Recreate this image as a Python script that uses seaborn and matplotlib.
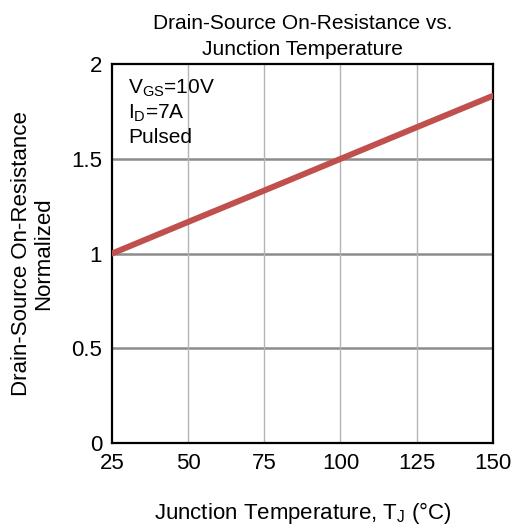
import matplotlib
matplotlib.use("Agg")
import matplotlib.pyplot as plt
import seaborn as sns
import pandas as pd

temps = [25, 50, 75, 100, 125, 150]
rds_norm = [1.0, 1.167, 1.333, 1.5, 1.667, 1.833]
x_ticks = [25, 50, 75, 100, 125, 150]
y_ticks = [0, 0.5, 1, 1.5, 2]
y_tick_labels = ["0", "0.5", "1", "1.5", "2"]

sns.set_theme(style="white")
plt.rcParams['font.family'] = ['Liberation Sans', 'DejaVu Sans']
plt.rcParams['mathtext.fontset'] = 'custom'
plt.rcParams['mathtext.rm'] = 'Liberation Sans'
plt.rcParams['mathtext.it'] = 'Liberation Sans'
plt.rcParams['text.color'] = 'black'
plt.rcParams['axes.labelcolor'] = 'black'
plt.rcParams['axes.titlecolor'] = 'black'

df = pd.DataFrame({"T": temps, "R": rds_norm})

fig = plt.figure(figsize=(5.16, 5.31), dpi=100)
ax = fig.add_axes([0.217, 0.166, 0.738, 0.713])

for y in [0.5, 1.0, 1.5]:
    ax.axhline(y, color="#8c8c8c", lw=1.8, zorder=1)
for x in [50, 75, 100, 125]:
    ax.axvline(x, color="#b4b4b4", lw=1.0, zorder=1)

sns.lineplot(data=df, x="T", y="R", ax=ax, color="#c0504d", lw=4.3, zorder=3)

ax.set_xlim(25, 150)
ax.set_ylim(0, 2)
ax.set_xticks(x_ticks)
ax.set_xticklabels([str(v) for v in x_ticks])
ax.set_yticks(y_ticks)
ax.set_yticklabels(y_tick_labels)
ax.tick_params(axis='both', labelsize=16, length=0, pad=7, colors="black")

for s in ax.spines.values():
    s.set_color("black")
    s.set_linewidth(1.6)

ax.set_title("Drain-Source On-Resistance vs.\nJunction Temperature", fontsize=15, pad=7, linespacing=1.45, color="black")
ax.set_xlabel(r"Junction Temperature, T$_\mathrm{J}$ (°C)", fontsize=16, labelpad=19, color="black")
ax.set_ylabel("Drain-Source On-Resistance\nNormalized", fontsize=16, labelpad=12, linespacing=1.1, color="black")

ax.text(0.042, 0.965, r"V$_\mathrm{GS}$=10V" + "\n" + r"I$_\mathrm{D}$=7A" + "\nPulsed",
        transform=ax.transAxes, ha="left", va="top", fontsize=15, linespacing=1.25, color="black")

fig.savefig("out.png", dpi=100)
